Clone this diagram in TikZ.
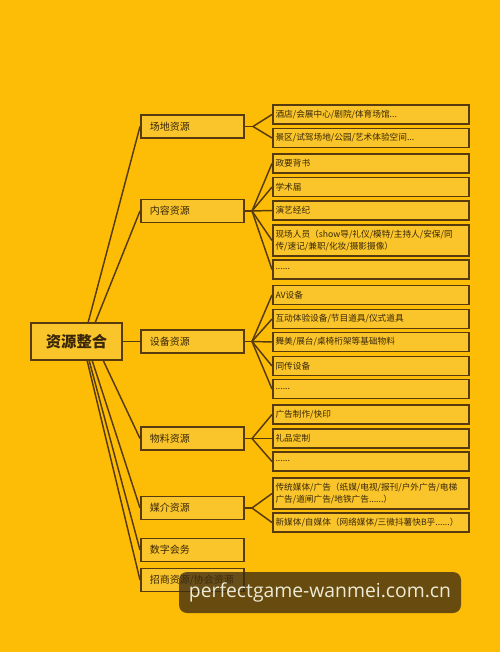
\documentclass[tikz,border=0pt]{standalone}
\usepackage{fontspec}
\newfontfamily\cjk{Noto Sans CJK SC}
\newfontfamily\wm{Open Sans}
\usetikzlibrary{backgrounds}
\definecolor{bg}{HTML}{FDBD07}
\definecolor{boxfill}{HTML}{F9C52A}
\definecolor{brd}{HTML}{573A0E}
\definecolor{txt}{HTML}{3A270A}
\definecolor{wmbox}{HTML}{3E2C12}
\definecolor{wmtxt}{HTML}{EDEBD6}
\tikzset{
  base/.style={draw=brd, fill=boxfill, line width=1.3pt, text=txt, inner sep=0pt},
  rootbox/.style={base, minimum width=68.25pt, minimum height=27.75pt, font=\cjk\bfseries\fontsize{11.5}{13}\selectfont},
  lvone/.style={base, anchor=west, minimum width=77.25pt, minimum height=17.25pt, text width=70.5pt, align=left, font=\cjk\fontsize{7.5}{9}\selectfont},
  lvtwo/.style={base, anchor=west, minimum width=147pt, minimum height=14.25pt, text width=143pt, align=left, font=\cjk\fontsize{6.5}{9}\selectfont},
  lvtwotall/.style={lvtwo, minimum height=23pt},
  conn/.style={draw=brd, line width=1.1pt},
}
\begin{document}
\begin{tikzpicture}[x=0.75pt, y=-0.75pt]
\useasboundingbox (0,0) rectangle (500,652);
% root
\node[rootbox] (root) at (76.5,341.5) {资源整合};
% level 1
\node[lvone] (a) at (140,126.5) {\hspace*{3.4pt}场地资源};
\node[lvone] (b) at (140,211) {\hspace*{3.4pt}内容资源};
\node[lvone] (c) at (140,341.5) {\hspace*{3.4pt}设备资源};
\node[lvone] (d) at (140,438.5) {\hspace*{3.4pt}物料资源};
\node[lvone] (e) at (140,508) {\hspace*{3.4pt}媒介资源};
\node[lvone] (f) at (140,550) {\hspace*{3.4pt}数字会务};
\node[lvone] (g) at (140,580) {\hspace*{3.4pt}招商资源/协会资源};
% level 2
\node[lvtwo] (a1) at (272,114.5) {酒店/会展中心/剧院/体育场馆...};
\node[lvtwo] (a2) at (272,138) {景区/试驾场地/公园/艺术体验空间...};
\node[lvtwo] (b1) at (272,163.5) {政要背书};
\node[lvtwo] (b2) at (272,187) {学术届};
\node[lvtwo] (b3) at (272,210.5) {演艺经纪};
\node[lvtwotall] (b4) at (272,240.5) {现场人员（show导/礼仪/模特/主持人/安保/同\\传/速记/兼职/化妆/摄影摄像）};
\node[lvtwo] (b5) at (272,269.5) {......};
\node[lvtwo] (c1) at (272,295) {AV设备};
\node[lvtwo] (c2) at (272,319) {互动体验设备/节目道具/仪式道具};
\node[lvtwo] (c3) at (272,342) {舞美/展台/桌椅桁架等基础物料};
\node[lvtwo] (c4) at (272,366) {同传设备};
\node[lvtwo] (c5) at (272,389) {......};
\node[lvtwo] (d1) at (272,414.5) {广告制作/快印};
\node[lvtwo] (d2) at (272,438.5) {礼品定制};
\node[lvtwo] (d3) at (272,461.5) {......};
\node[lvtwotall] (e1) at (272,493.5) {传统媒体/广告（纸媒/电视/报刊/户外广告/电梯\\广告/道闸广告/地铁广告......）};
\node[lvtwo] (e2) at (272,522.5) {新媒体/自媒体（网络媒体/三微抖薯快B乎......）};
% hubs
\coordinate (ha) at (253,126.5);
\coordinate (hb) at (252,211);
\coordinate (hc) at (252,341.5);
\coordinate (hd) at (252,438.5);
\coordinate (he) at (252,508);
\coordinate (r1) at (88,323);
\coordinate (r2) at (95,323);
\coordinate (r4) at (103,360);
\coordinate (r5) at (92,360);
\coordinate (r6) at (89,360);
\coordinate (r7) at (87,360);
\begin{scope}[on background layer]
\fill[bg] (0,0) rectangle (500,652);
\draw[conn] (r1) -- (a.west);
\draw[conn] (r2) -- (b.west);
\draw[conn] (root.east) -- (c.west);
\draw[conn] (r4) -- (d.west);
\draw[conn] (r5) -- (e.west);
\draw[conn] (r6) -- (f.west);
\draw[conn] (r7) -- (g.west);
\draw[conn] (a.east) -- (ha);
\foreach \t in {a1,a2} \draw[conn] (ha) -- (\t.west);
\draw[conn] (b.east) -- (hb);
\foreach \t in {b1,b2,b3,b4,b5} \draw[conn] (hb) -- (\t.west);
\draw[conn] (c.east) -- (hc);
\foreach \t in {c1,c2,c3,c4,c5} \draw[conn] (hc) -- (\t.west);
\draw[conn] (d.east) -- (hd);
\foreach \t in {d1,d2,d3} \draw[conn] (hd) -- (\t.west);
\draw[conn] (e.east) -- (he);
\foreach \t in {e1,e2} \draw[conn] (he) -- (\t.west);
\end{scope}
% watermark
\node[fill=wmbox, fill opacity=0.78, text opacity=1, rounded corners=6pt, minimum width=211.5pt, minimum height=30.75pt, inner sep=0pt, text=wmtxt, font=\wm\fontsize{14.5}{16}\selectfont] (wmk) at (320,592.5) {perfectgame-wanmei.com.cn};
\end{tikzpicture}
\end{document}
